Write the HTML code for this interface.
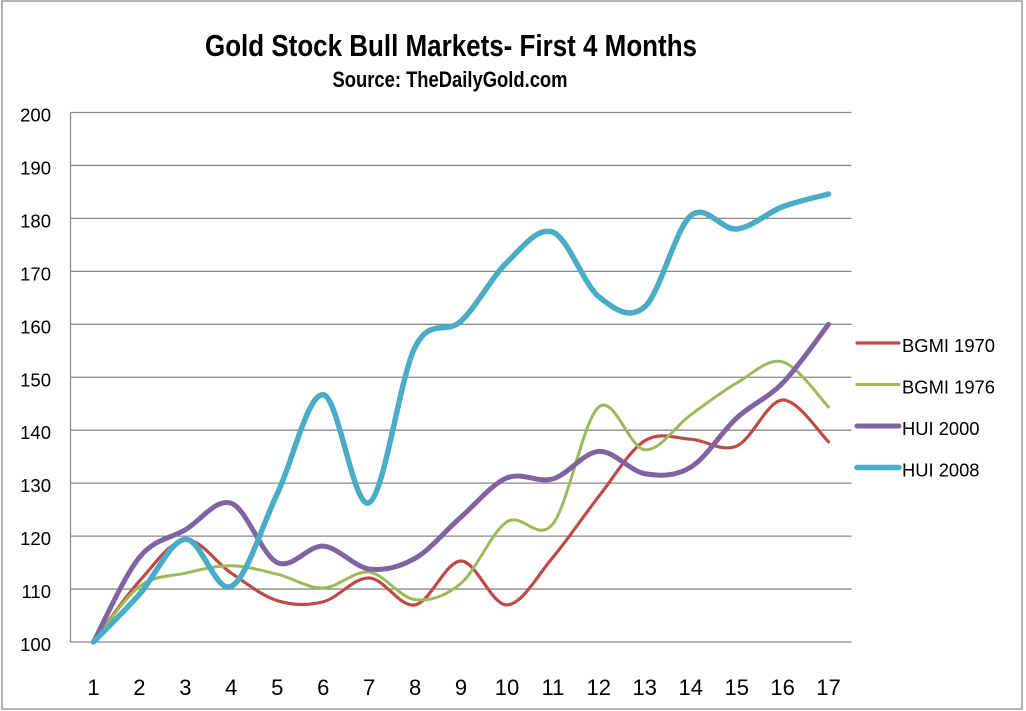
<!DOCTYPE html>
<html><head><meta charset="utf-8">
<style>
html,body{margin:0;padding:0;background:#fff;width:1026px;height:711px;overflow:hidden}
svg{display:block}
</style></head>
<body>
<svg id="c" width="1026" height="711" viewBox="0 0 1026 711" xmlns="http://www.w3.org/2000/svg" font-family="'Liberation Sans', Arial, sans-serif">
<rect x="0" y="0" width="1026" height="711" fill="#fff"/>
<rect x="2" y="1" width="1020" height="708" fill="none" stroke="#9a9a9a" stroke-width="1.5"/>

<text x="451" y="56" text-anchor="middle" font-weight="bold" font-size="31" fill="#000" textLength="492" lengthAdjust="spacingAndGlyphs">Gold Stock Bull Markets- First 4 Months</text>
<text x="450" y="87" text-anchor="middle" font-weight="bold" font-size="22" fill="#000" textLength="235" lengthAdjust="spacingAndGlyphs">Source: TheDailyGold.com</text>

<g stroke="#8a8a8a" stroke-width="1.3" fill="none">
<line x1="70.5" y1="112.5" x2="851.5" y2="112.5"/>
<line x1="70.5" y1="165.45" x2="851.5" y2="165.45"/>
<line x1="70.5" y1="218.4" x2="851.5" y2="218.4"/>
<line x1="70.5" y1="271.35" x2="851.5" y2="271.35"/>
<line x1="70.5" y1="324.3" x2="851.5" y2="324.3"/>
<line x1="70.5" y1="377.25" x2="851.5" y2="377.25"/>
<line x1="70.5" y1="430.2" x2="851.5" y2="430.2"/>
<line x1="70.5" y1="483.15" x2="851.5" y2="483.15"/>
<line x1="70.5" y1="536.1" x2="851.5" y2="536.1"/>
<line x1="70.5" y1="589.05" x2="851.5" y2="589.05"/>
<line x1="70.5" y1="642" x2="851.5" y2="642"/>
<line x1="70.5" y1="112.5" x2="70.5" y2="642"/>
</g>

<g font-size="18.5" fill="#000" text-anchor="end">
<text x="51" y="121.5">200</text>
<text x="51" y="174.5">190</text>
<text x="51" y="227.4">180</text>
<text x="51" y="280.4">170</text>
<text x="51" y="333.3">160</text>
<text x="51" y="386.3">150</text>
<text x="51" y="439.2">140</text>
<text x="51" y="492.2">130</text>
<text x="51" y="545.1">120</text>
<text x="51" y="598.1">110</text>
<text x="51" y="651">100</text>
</g>

<g font-size="22" fill="#000" text-anchor="middle">
<text x="93.5" y="695">1</text>
<text x="139.4" y="695">2</text>
<text x="185.4" y="695">3</text>
<text x="231.3" y="695">4</text>
<text x="277.3" y="695">5</text>
<text x="323.2" y="695">6</text>
<text x="369.1" y="695">7</text>
<text x="415.1" y="695">8</text>
<text x="461" y="695">9</text>
<text x="507" y="695">10</text>
<text x="552.9" y="695">11</text>
<text x="598.8" y="695">12</text>
<text x="644.8" y="695">13</text>
<text x="690.7" y="695">14</text>
<text x="736.7" y="695">15</text>
<text x="782.6" y="695">16</text>
<text x="828.5" y="695">17</text>
</g>

<g id="series" fill="none" stroke-linecap="round" stroke-linejoin="round"></g>

<g stroke-linecap="round">
<line x1="857" y1="343" x2="899" y2="343" stroke="#BE4B48" stroke-width="3.2"/>
<line x1="857" y1="384.5" x2="899" y2="384.5" stroke="#9BBB59" stroke-width="3"/>
<line x1="857" y1="426" x2="899" y2="426" stroke="#8064A2" stroke-width="5"/>
<line x1="857" y1="467.5" x2="899" y2="467.5" stroke="#4BACC6" stroke-width="5.5"/>
</g>
<g font-size="18.5" fill="#000">
<text x="902" y="352" textLength="93" lengthAdjust="spacingAndGlyphs">BGMI 1970</text>
<text x="902" y="393.5" textLength="93" lengthAdjust="spacingAndGlyphs">BGMI 1976</text>
<text x="902" y="435" textLength="77.5" lengthAdjust="spacingAndGlyphs">HUI 2000</text>
<text x="902" y="476.5" textLength="77.5" lengthAdjust="spacingAndGlyphs">HUI 2008</text>
</g>
</svg>
<script>
(function(){
  var data = [
    {c:"#BE4B48", w:3.2, v:[100,111.5,119.3,113,107.8,107.6,112.1,107,115.3,107,116,127.5,138,138.3,137,145.7,137.8]},
    {c:"#9BBB59", w:3,   v:[100,110.5,113,114.4,112.8,110.2,113.2,108,111.1,122.7,122.3,144.4,136.3,142.9,148.9,152.9,144.4]},
    {c:"#8064A2", w:5,   v:[100,116,121.2,126.2,115,118.1,113.8,115.8,123.6,131,130.8,136,131.8,133,142.3,148.9,160]},
    {c:"#4BACC6", w:5.5, v:[100,109,119.4,110.5,128,146.7,126.3,155.7,160.6,171.7,177.4,165.2,163.3,180.5,178,182.2,184.6]}
  ];
  function X(i){return 93.5 + i*45.94;}
  function Y(v){return 642 - (v-100)*5.295;}
  var g = document.getElementById("series");
  var NS = "http://www.w3.org/2000/svg";
  data.forEach(function(s){
    var p = s.v.map(function(v,i){return [X(i),Y(v)];});
    var n = p.length;
    var d = "M" + p[0][0].toFixed(2) + "," + p[0][1].toFixed(2);
    for (var i=0;i<n-1;i++){
      var p0 = p[Math.max(0,i-1)], p1 = p[i], p2 = p[i+1], p3 = p[Math.min(n-1,i+2)];
      var c1x = p1[0] + (p2[0]-p0[0])/6, c1y = p1[1] + (p2[1]-p0[1])/6;
      var c2x = p2[0] - (p3[0]-p1[0])/6, c2y = p2[1] - (p3[1]-p1[1])/6;
      d += " C" + c1x.toFixed(2)+","+c1y.toFixed(2)+" "+c2x.toFixed(2)+","+c2y.toFixed(2)+" "+p2[0].toFixed(2)+","+p2[1].toFixed(2);
    }
    var path = document.createElementNS(NS,"path");
    path.setAttribute("d", d);
    path.setAttribute("stroke", s.c);
    path.setAttribute("stroke-width", s.w);
    g.appendChild(path);
  });
})();
</script>
</body></html>
